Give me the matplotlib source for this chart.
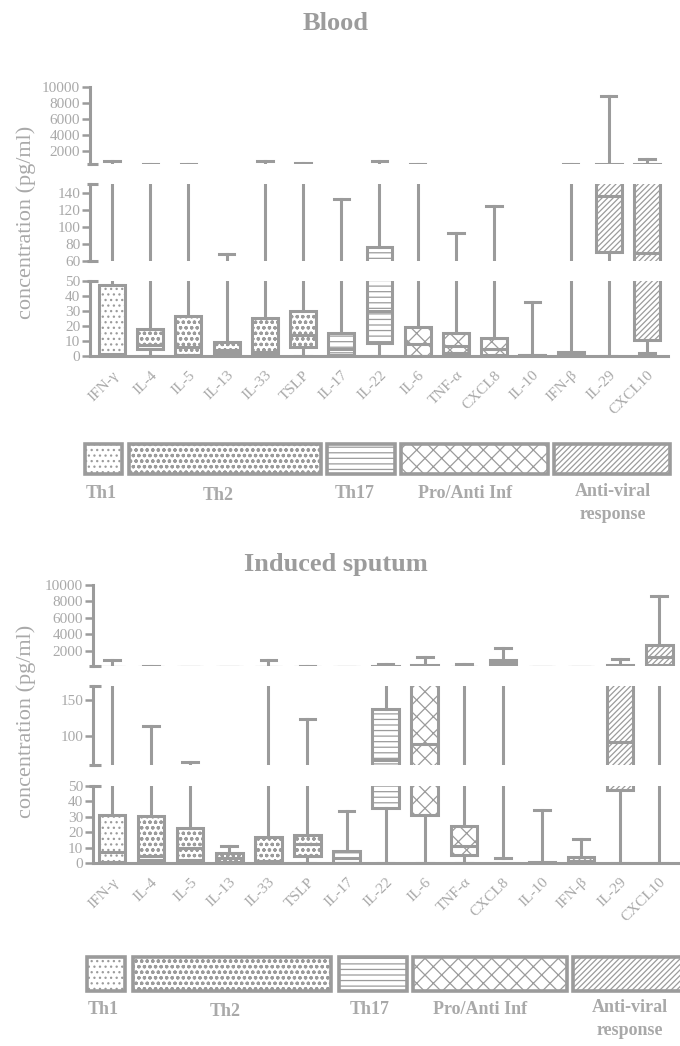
import matplotlib
matplotlib.use('Agg')
import matplotlib.pyplot as plt
from matplotlib.patches import Rectangle

plt.rcParams['font.family'] = ['Liberation Serif', 'DejaVu Serif']
plt.rcParams['hatch.linewidth'] = 0.9
plt.rcParams['hatch.color'] = '#9b9b9b'

LINE = '#9b9b9b'
TEXT = '#a9a9a9'
TITLE = '#9c9c9c'
W, H = 680, 1046

# ---- data (pg/ml) ----
cytokines = ['IFN-γ', 'IL-4', 'IL-5', 'IL-13', 'IL-33', 'TSLP', 'IL-17', 'IL-22',
             'IL-6', 'TNF-α', 'CXCL8', 'IL-10', 'IFN-β', 'IL-29', 'CXCL10']
group_of = [0, 1, 1, 1, 1, 1, 2, 2, 3, 3, 3, 3, 4, 4, 4]
group_names = ['Th1', 'Th2', 'Th17', 'Pro/Anti Inf', 'Anti-viral\nresponse']

blood_min = [0.5, 0, 0, 0, 0, 0, 0, 0, 0, 0, 0, 0, 0, 0, 2.2]
blood_q1 = [1, 4.4, 0.7, 1.8, 1.8, 6.2, 0.5, 8.4, 0.3, 2.2, 0.5, 0.2, 0.3, 71, 11]
blood_med = [1.5, 7.3, 6, 4, 3, 14, 5, 30, 8, 7, 5, 0.5, 1, 136, 69]
blood_q3 = [47, 17.8, 26.7, 9.1, 25.5, 30.2, 15, 77, 19.5, 15, 11.8, 1, 3, 380, 380]
blood_max = [800, 400, 400, 68, 700, 500, 133, 800, 400, 93, 125, 36, 400, 8800, 1000]

sput_min = [0, 0, 0, 0, 0, 0, 0, 0, 0, 0, 3.2, 0, 0, 0, 0]
sput_q1 = [0.5, 2.2, 2.2, 0.4, 0.4, 4.7, 0.2, 35.6, 31.2, 5.4, 280, 0.1, 0.2, 47.4, 230]
sput_med = [6.9, 4.7, 9.7, 3.2, 1, 12.3, 3, 67, 89, 10.8, 500, 0.3, 1, 92.7, 1200]
sput_q3 = [31.2, 30.2, 22.6, 6.5, 17.2, 18.3, 7.5, 138, 280, 24.1, 900, 0.8, 3.9, 280, 2700]
sput_max = [900, 114, 64, 11.2, 900, 124, 34, 350, 1290, 350, 2300, 34.5, 15.5, 970, 8700]

hatches = ['...', 'ooo', '---', 'xx', '//////']

fig = plt.figure(figsize=(W / 100, H / 100), dpi=100)


def px_axes(x0, x1, ytop, ybot):
    return fig.add_axes([x0 / W, 1 - ybot / H, (x1 - x0) / W, (ybot - ytop) / H])


def draw_panel(title, title_y, mins, q1s, meds, q3s, maxs, x0, x1, xlim, segs, ylab_y):
    stats = []
    for i in range(len(cytokines)):
        stats.append(dict(whislo=mins[i], q1=q1s[i], med=meds[i], q3=q3s[i], whishi=maxs[i]))
    for k, (ytop, ybot, lo, hi, yt) in enumerate(segs):
        ax = px_axes(x0, x1, ytop, ybot)
        bp = ax.bxp(stats, positions=range(len(cytokines)), widths=0.68, patch_artist=True,
                    showfliers=False, manage_ticks=False, capwidths=0.4,
                    boxprops=dict(facecolor='white', edgecolor=LINE, linewidth=2.2),
                    whiskerprops=dict(color=LINE, linewidth=2.2),
                    capprops=dict(color=LINE, linewidth=2.2),
                    medianprops=dict(color=LINE, linewidth=2.2))
        for i, b in enumerate(bp['boxes']):
            b.set_hatch(hatches[group_of[i]])
        ax.set_xlim(*xlim)
        ax.set_ylim(lo, hi)
        ax.set_yticks(yt)
        for s in ['top', 'right']:
            ax.spines[s].set_visible(False)
        ax.spines['left'].set_color(LINE)
        ax.spines['left'].set_linewidth(2.2)
        ax.tick_params(axis='y', length=6, width=1.8, color=LINE, labelcolor=TEXT,
                       labelsize=11, pad=1)
        last = k == len(segs) - 1
        # segment end caps on the broken axis
        ends = [1] if last else [0, 1]
        if k == 0:
            ends = [0]
        for e in ends:
            ax.plot([-0.006, 0.013], [e, e], transform=ax.transAxes, color=LINE,
                    linewidth=2.2, clip_on=False, solid_capstyle='butt')
        if last:
            ax.spines['bottom'].set_color(LINE)
            ax.spines['bottom'].set_linewidth(2.2)
            ax.set_xticks(range(len(cytokines)))
            ax.set_xticklabels(cytokines, rotation=45, ha='right', rotation_mode='anchor',
                               color=TEXT, fontsize=11)
            ax.tick_params(axis='x', length=0, pad=9)
        else:
            ax.spines['bottom'].set_visible(False)
            ax.set_xticks([])
        ax.patch.set_alpha(0)
    fig.text(26 / W, 1 - ylab_y / H, 'concentration (pg/ml)', rotation=90, ha='center',
             va='center', color=TEXT, fontsize=16)
    fig.text(336 / W, 1 - title_y / H, title, ha='center', va='center', color=TITLE,
             fontsize=19, fontweight='bold')


def draw_legend(ytop, ybot, spans, label_pos):
    for g, (a, b) in enumerate(spans):
        fig.patches.append(Rectangle((a / W, 1 - ybot / H), (b - a) / W, (ybot - ytop) / H,
                                     transform=fig.transFigure, facecolor='white',
                                     edgecolor=LINE, linewidth=2.6, hatch=hatches[g]))
    for g, (lx, ly) in enumerate(label_pos):
        fig.text(lx / W, 1 - ly / H, group_names[g], ha='center', va='center', color=TEXT,
                 fontsize=13, fontweight='bold', linespacing=1.5)


# Blood panel
draw_panel('Blood', 24, blood_min, blood_q1, blood_med, blood_q3, blood_max,
           90, 668, (-0.576, 14.55),
           [(86.7, 164.3, 350, 10000, [2000, 4000, 6000, 8000, 10000]),
            (184.3, 261, 60, 150, [60, 80, 100, 120, 140]),
            (281, 356, 0, 50, [0, 10, 20, 30, 40, 50])], 222)
draw_legend(444, 474, [(85, 122), (129, 321), (327, 395), (401, 548), (554, 670)],
            [(101, 493), (218, 495), (355, 493), (465, 493), (613, 503)])

# Induced sputum panel
draw_panel('Induced sputum', 564, sput_min, sput_q1, sput_med, sput_q3, sput_max,
           93, 680, (-0.486, 14.53),
           [(585, 665.7, 200, 10000, [2000, 4000, 6000, 8000, 10000]),
            (686, 765, 60, 170, [100, 150]),
            (786, 863, 0, 50, [0, 10, 20, 30, 40, 50])], 721)
draw_legend(957, 991, [(87, 125), (133, 331), (339, 407), (413, 567), (573, 692)],
            [(103, 1010), (225, 1012), (370, 1010), (480, 1010), (630, 1019)])

fig.savefig('out.png', dpi=100)
